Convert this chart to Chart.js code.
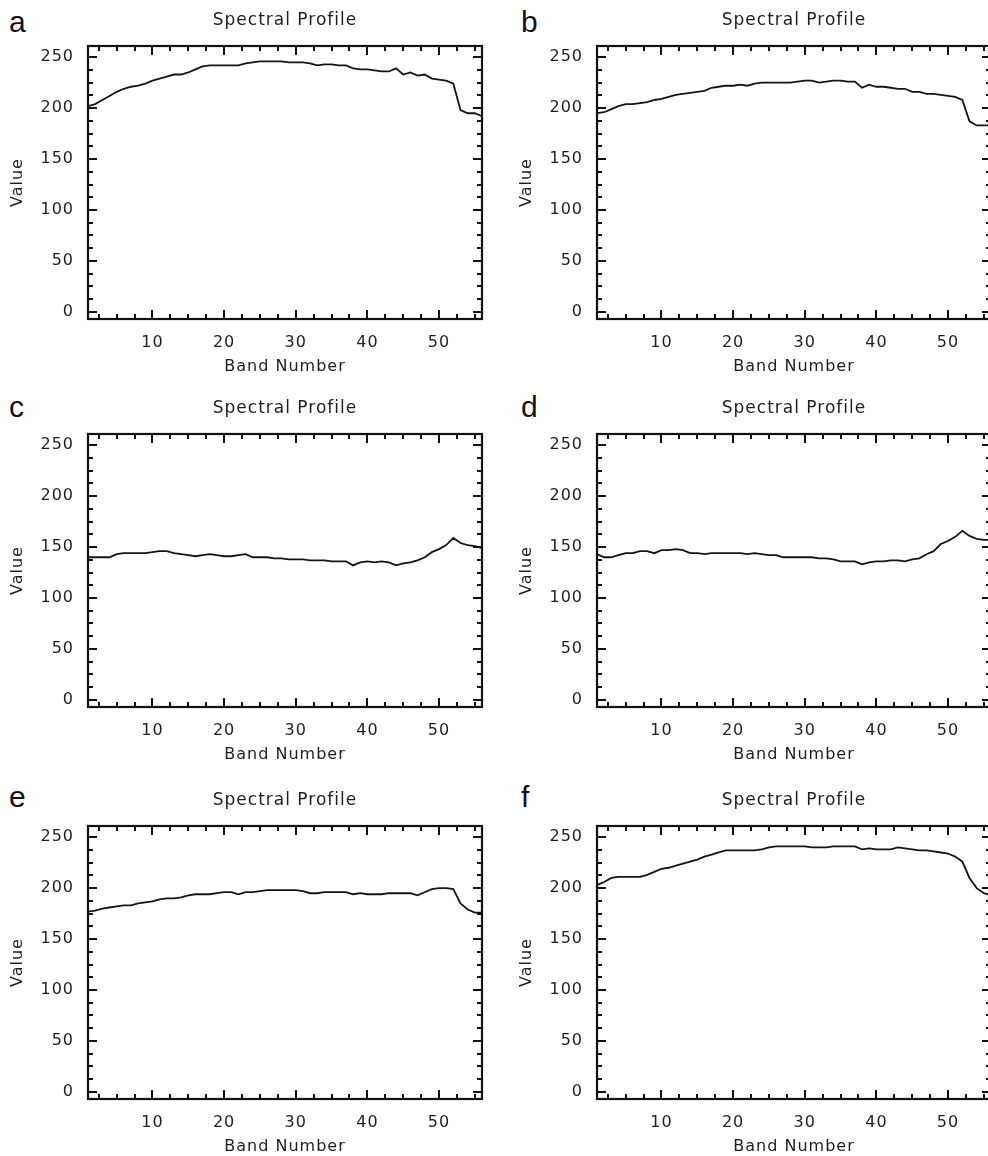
<!DOCTYPE html>
<html>
<head>
<meta charset="utf-8">
<script src="https://cdn.jsdelivr.net/npm/chart.js@4.4.0/dist/chart.umd.min.js"></script>
<style>
  body { margin: 0; background: #fff; width: 988px; height: 1156px; position: relative; overflow: hidden; }
  .panel { position: absolute; width: 494px; height: 385px; }
  .letter { position: absolute; font-family: "Liberation Sans", Arial, sans-serif; font-size: 30px; line-height: 30px; color: #111; }
</style>
</head>
<body>

<div class="letter" style="left:9px;top:7px">a</div>
<div class="letter" style="left:521px;top:7px">b</div>
<div class="letter" style="left:9px;top:392px">c</div>
<div class="letter" style="left:521px;top:392px">d</div>
<div class="letter" style="left:9px;top:782px">e</div>
<div class="letter" style="left:521px;top:782px">f</div>

<div class="panel" style="left:0;top:0"><canvas id="panel-a"></canvas></div>
<div class="panel" style="left:509px;top:0"><canvas id="panel-b"></canvas></div>
<div class="panel" style="left:0;top:388px"><canvas id="panel-c"></canvas></div>
<div class="panel" style="left:509px;top:388px"><canvas id="panel-d"></canvas></div>
<div class="panel" style="left:0;top:780px"><canvas id="panel-e"></canvas></div>
<div class="panel" style="left:509px;top:780px"><canvas id="panel-f"></canvas></div>

<script>
// band numbers 1..56
const bands = [1,2,3,4,5,6,7,8,9,10,11,12,13,14,15,16,17,18,19,20,21,22,23,24,25,26,27,28,
               29,30,31,32,33,34,35,36,37,38,39,40,41,42,43,44,45,46,47,48,49,50,51,52,53,54,55,56];

// spectral values
const profileA = [202,204,208,212,216,219,221,222,224,227,229,231,233,233,235,238,241,242,242,242,
                  242,242,244,245,246,246,246,246,245,245,245,244,242,243,243,242,242,239,238,238,
                  237,236,236,239,233,235,232,233,229,228,227,224,198,195,195,192];
const profileB = [195,196,199,202,204,204,205,206,208,209,211,213,214,215,216,217,220,221,222,222,
                  223,222,224,225,225,225,225,225,226,227,227,225,226,227,227,226,226,220,223,221,
                  221,220,219,219,216,216,214,214,213,212,211,208,187,183,183,183];
const profileC = [140,140,140,140,143,144,144,144,144,145,146,146,144,143,142,141,142,143,142,141,
                  141,142,143,140,140,140,139,139,138,138,138,137,137,137,136,136,136,132,135,136,
                  135,136,135,132,134,135,137,140,145,148,152,159,154,152,151,149];
const profileD = [143,140,140,142,144,144,146,146,144,147,147,148,147,144,144,143,144,144,144,144,
                  144,143,144,143,142,142,140,140,140,140,140,139,139,138,136,136,136,133,135,136,
                  136,137,137,136,138,139,143,146,153,156,160,166,161,158,157,157];
const profileE = [177,178,180,181,182,183,183,185,186,187,189,190,190,191,193,194,194,194,195,196,
                  196,194,196,196,197,198,198,198,198,198,197,195,195,196,196,196,196,194,195,194,
                  194,194,195,195,195,195,193,196,199,200,200,199,185,179,176,176];
const profileF = [203,206,210,211,211,211,211,213,216,219,220,222,224,226,228,231,233,235,237,237,
                  237,237,237,238,240,241,241,241,241,241,240,240,240,241,241,241,241,238,239,238,
                  238,238,240,239,238,237,237,236,235,234,231,226,210,200,195,193];

// axis ticks
const xTickLabels = [10, 20, 30, 40, 50];
const yTickLabels = [0, 50, 100, 150, 200, 250];
const xMinorStep = 2.5;
const yMinorStep = 12.5;

const FONT = 'DejaVu Sans, sans-serif';
const INK = '#1e1e1e';

// IDL-style frame with inward ticks on all four sides
const framePlugin = {
  id: 'frame',
  beforeDraw(chart) {
    chart.ctx.letterSpacing = '1px';
  },
  afterDraw(chart) {
    const ctx = chart.ctx;
    const area = chart.chartArea;
    const xs = chart.scales.x, ys = chart.scales.y;
    ctx.save();
    ctx.strokeStyle = '#111';
    ctx.lineWidth = 2;
    ctx.beginPath();
    for (let v = xMinorStep; v < xs.max; v += xMinorStep) {
      if (v <= xs.min) continue;
      const px = Math.round(xs.getPixelForValue(v));
      const len = xTickLabels.indexOf(v) > -1 ? 9 : 5;
      ctx.moveTo(px, area.bottom); ctx.lineTo(px, area.bottom - len);
      ctx.moveTo(px, area.top); ctx.lineTo(px, area.top + len);
    }
    for (let v = 0; v <= ys.max; v += yMinorStep) {
      const py = Math.round(ys.getPixelForValue(v));
      const len = yTickLabels.indexOf(v) > -1 ? 9 : 5;
      ctx.moveTo(area.left, py); ctx.lineTo(area.left + len, py);
      ctx.moveTo(area.right, py); ctx.lineTo(area.right - len, py);
    }
    ctx.stroke();
    ctx.lineWidth = 2.2;
    ctx.strokeRect(area.left, area.top, area.right - area.left, area.bottom - area.top);
    ctx.restore();
    ctx.letterSpacing = '0px';
  }
};

function makePanel(id, values) {
  const font = { family: FONT, size: 16, weight: 'normal' };
  const titleFont = { family: FONT, size: 17, weight: 'normal' };
  return new Chart(document.getElementById(id), {
    type: 'line',
    data: {
      datasets: [{
        data: bands.map((b, i) => ({ x: b, y: values[i] })),
        borderColor: '#141414',
        borderWidth: 1.8,
        pointRadius: 0,
        tension: 0,
        fill: false
      }]
    },
    options: {
      animation: false,
      responsive: true,
      maintainAspectRatio: false,
      layout: { padding: { left: 0, right: 12, top: 0, bottom: 0 } },
      plugins: {
        legend: { display: false },
        tooltip: { enabled: false },
        title: {
          display: true, text: 'Spectral Profile', fullSize: false,
          color: INK, font: titleFont, padding: { top: 10.5, bottom: 15.1 }
        }
      },
      scales: {
        x: {
          type: 'linear', min: 1, max: 56,
          afterBuildTicks: s => { s.ticks = xTickLabels.map(v => ({ value: v })); },
          afterFit: s => { s.height = 66; },
          grid: { display: false, drawTicks: false },
          border: { display: false },
          ticks: { padding: 14, color: INK, font: font, maxRotation: 0 },
          title: { display: true, text: 'Band Number', color: INK, font: font, padding: { top: 0, bottom: 8.5 } }
        },
        y: {
          type: 'linear', min: -7, max: 261,
          afterBuildTicks: s => { s.ticks = yTickLabels.map(v => ({ value: v })); },
          afterFit: s => { s.width = 88; },
          grid: { display: false, drawTicks: false },
          border: { display: false },
          ticks: { padding: 14, color: INK, font: font },
          title: { display: true, text: 'Value', color: INK, font: font, padding: { top: 8.7, bottom: 0 } }
        }
      }
    },
    plugins: [framePlugin]
  });
}

makePanel('panel-a', profileA);
makePanel('panel-b', profileB);
makePanel('panel-c', profileC);
makePanel('panel-d', profileD);
makePanel('panel-e', profileE);
makePanel('panel-f', profileF);
</script>
</body>
</html>
